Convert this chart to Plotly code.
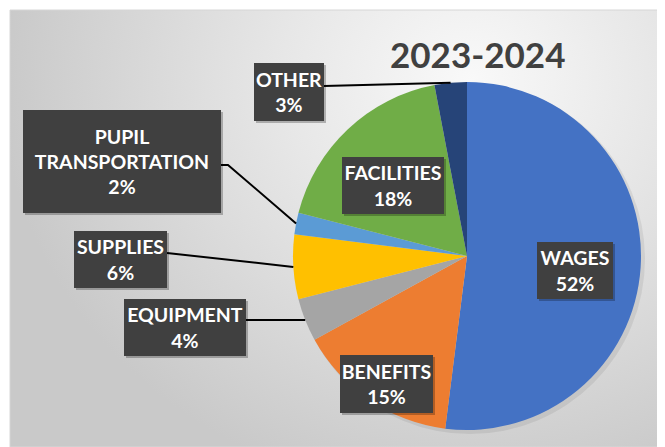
import math
import plotly.graph_objects as go

# ---------------- data ----------------
title_text = "2023-2024"
categories = ["WAGES", "BENEFITS", "EQUIPMENT", "SUPPLIES",
              "PUPIL TRANSPORTATION", "FACILITIES", "OTHER"]
values = [52, 15, 4, 6, 2, 18, 3]
slice_colors = ["#4472C4", "#ED7D31", "#A5A5A5", "#FFC000",
                "#5B9BD5", "#70AD47", "#264478"]

# ---------------- layout constants (reference pixels, top-left origin) ----------------
VW, VH = 665, 447          # browser window
OFF = 8                    # page body margin
W, H = VW - OFF, VH - OFF  # figure size
CHART_X0, CHART_Y0 = 10, 10
PIE_CX, PIE_CY, PIE_R = 467, 256, 174
FONT = "Lato, 'Open Sans', sans-serif"
BOX_COLOR = "#404040"

# label box (x0, x1, y0, y1)
label_boxes = {
    "WAGES": (537, 613, 242, 299),
    "BENEFITS": (340, 433, 355, 413),
    "EQUIPMENT": (124, 246, 299, 356),
    "SUPPLIES": (74, 167, 231, 288),
    "PUPIL TRANSPORTATION": (23, 221, 110, 213),
    "FACILITIES": (342, 444, 157, 214),
    "OTHER": (254, 324, 63, 121),
}
# leader line start points (from the box edge)
leader_starts = {
    "OTHER": [(324, 86)],
    "PUPIL TRANSPORTATION": [(221, 165), (228, 165)],
    "SUPPLIES": [(167, 253)],
    "EQUIPMENT": [(246, 320)],
}

def px2paper_x(x):
    return (x - OFF) / W

def px2paper_y(y):
    return (VH - y) / H

fig = go.Figure()

# background radial gradient (clipped to chart area)
gx0, gx1, gy0, gy1 = 0, 940, -340, 500
fig.add_trace(go.Scatter(
    x=[gx0, gx1, gx1, gx0, gx0], y=[gy0, gy0, gy1, gy1, gy0],
    mode="lines", fill="toself", line=dict(width=0),
    fillgradient=dict(type="radial",
                      colorscale=[[0, "#f9f9f9"], [0.4, "#e7e7e7"], [1, "#c9c9c9"]]),
    hoverinfo="skip", showlegend=False,
))

def pie_domain(cx, cy, r):
    return dict(x=[px2paper_x(cx - r), px2paper_x(cx + r)],
                y=[px2paper_y(cy + r), px2paper_y(cy - r)])

# soft shadow under pie
fig.add_trace(go.Pie(
    values=[1], marker=dict(colors=["rgba(0,0,0,0.07)"], line=dict(width=0)),
    domain=pie_domain(PIE_CX + 3, PIE_CY + 3, PIE_R + 1),
    textinfo="none", hoverinfo="skip", showlegend=False, sort=False,
))

fig.add_trace(go.Pie(
    labels=categories, values=values,
    marker=dict(colors=slice_colors, line=dict(width=0)),
    domain=pie_domain(PIE_CX, PIE_CY, PIE_R),
    sort=False, direction="clockwise", rotation=0,
    textinfo="none", hoverinfo="label+percent", showlegend=False,
))

total = sum(values)
shapes = []
annotations = []

# chart area border
shapes.append(dict(type="rect", xref="paper", yref="paper",
                   x0=px2paper_x(CHART_X0), x1=1, y0=0, y1=px2paper_y(CHART_Y0),
                   line=dict(color="#d6d6d6", width=1), fillcolor="rgba(0,0,0,0)",
                   layer="above"))

cum = 0
for cat, v in zip(categories, values):
    theta = 2 * math.pi * (cum + v / 2) / total
    cum += v
    ex = PIE_CX + PIE_R * math.sin(theta)
    ey = PIE_CY - PIE_R * math.cos(theta)
    if cat in leader_starts:
        pts = leader_starts[cat] + [(ex, ey)]
        path = "M " + " L ".join(f"{px:.1f} {py:.1f}" for px, py in pts)
        shapes.append(dict(type="path", xref="x", yref="y", path=path,
                           line=dict(color="#000000", width=2), layer="above"))
    x0, x1, y0, y1 = label_boxes[cat]
    # box shadow
    shapes.append(dict(type="rect", xref="x", yref="y",
                       x0=x0 + 2, x1=x1 + 2, y0=y0 + 2, y1=y1 + 2,
                       fillcolor="rgba(0,0,0,0.25)", line=dict(width=0), layer="above"))
    name = cat.replace(" ", "<br>", 1)
    pct = f"{round(v / total * 100)}%"
    annotations.append(dict(
        xref="x", yref="y", x=(x0 + x1) / 2, y=(y0 + y1) / 2,
        xanchor="center", yanchor="middle",
        width=x1 - x0, height=y1 - y0, borderpad=0, borderwidth=0,
        bgcolor=BOX_COLOR, align="center", valign="middle", showarrow=False,
        text=f"<b>{name}<br>{pct}</b>",
        font=dict(family=FONT, size=19.5, color="#ffffff"),
    ))

annotations.append(dict(
    xref="x", yref="y", x=477, y=54, xanchor="center", yanchor="middle",
    showarrow=False, text=f"<b>{title_text}</b>",
    font=dict(family=FONT, size=35, color="#404040"),
))

fig.update_layout(
    width=W, height=H,
    margin=dict(l=0, r=0, t=0, b=0, pad=0),
    paper_bgcolor="#ffffff", plot_bgcolor="rgba(0,0,0,0)",
    xaxis=dict(range=[CHART_X0, VW], domain=[px2paper_x(CHART_X0), 1],
               visible=False, fixedrange=True),
    yaxis=dict(range=[VH, CHART_Y0], domain=[0, px2paper_y(CHART_Y0)],
               visible=False, fixedrange=True),
    shapes=shapes, annotations=annotations, showlegend=False,
)

fig.write_html("out.html")
